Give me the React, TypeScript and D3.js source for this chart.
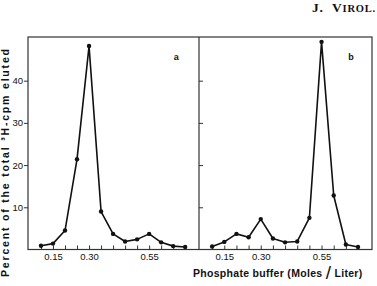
import { useRef, useEffect } from "react";
import * as d3 from "d3";

// fractions 0..12 collected in each run
const fractions = d3.range(13);
// percent of total 3H-cpm eluted
const runA = [0.9, 1.4, 4.5, 21.4, 48.2, 9.0, 3.7, 1.9, 2.4, 3.7, 1.7, 0.8, 0.6];
const runB = [0.7, 1.8, 3.7, 2.9, 7.2, 2.6, 1.7, 1.9, 7.5, 49.2, 12.8, 1.2, 0.6];
// phosphate molarity labels sit under these fractions
const molarityTicks = [1, 4, 9];
const molarityLabels = ["0.15", "0.30", "0.55"];
const yTicks = [10, 20, 30, 40];

const W = 377;
const H = 286;
const SANS = "'Liberation Sans', Arial, sans-serif";

const App: React.FC = () => {
  const svgRef = useRef<SVGSVGElement | null>(null);

  useEffect(() => {
    if (!svgRef.current) return;
    const svg = d3.select(svgRef.current);
    svg.selectAll("*").remove();

    const top = 37;
    const bottom = 249.5;
    const left = 28;
    const mid = 199;
    const right = 372;

    const y = d3.scaleLinear().domain([0, 50.35]).range([bottom, top]);

    const panels = [
      { key: "a", data: runA, x: d3.scaleLinear().domain([-1.08, 13.15]).range([left, mid]) },
      { key: "b", data: runB, x: d3.scaleLinear().domain([-1.08, 13.15]).range([mid, right]) },
    ];

    // frame
    svg
      .append("rect")
      .attr("x", left)
      .attr("y", top)
      .attr("width", right - left)
      .attr("height", bottom - top)
      .attr("fill", "none")
      .attr("stroke", "#333")
      .attr("stroke-width", 1.2);
    svg
      .append("line")
      .attr("x1", mid)
      .attr("x2", mid)
      .attr("y1", top)
      .attr("y2", bottom)
      .attr("stroke", "#333")
      .attr("stroke-width", 1.2);

    // y axis for a (outside), ticks for b on the divider (inside)
    const yAxisA = svg
      .append("g")
      .attr("transform", `translate(${left},0)`)
      .call(d3.axisLeft(y).tickValues(yTicks).tickSize(4).tickPadding(1).tickFormat(d3.format("d")));
    yAxisA.select(".domain").remove();
    yAxisA
      .selectAll("text")
      .attr("font-family", SANS)
      .attr("font-size", 9.5)
      .attr("fill", "#111");
    yAxisA.selectAll("line").attr("stroke", "#333");

    const yAxisB = svg
      .append("g")
      .attr("transform", `translate(${mid},0)`)
      .call(d3.axisRight(y).tickValues(yTicks).tickSize(4).tickFormat(() => ""));
    yAxisB.select(".domain").remove();
    yAxisB.selectAll("line").attr("stroke", "#333");

    panels.forEach((p) => {
      // fraction ticks pointing up
      const xAxis = svg
        .append("g")
        .attr("transform", `translate(0,${bottom})`)
        .call(
          d3
            .axisBottom(p.x)
            .tickValues(fractions)
            .tickSizeInner(-4)
            .tickSizeOuter(0)
            .tickFormat(() => "")
        );
      xAxis.select(".domain").remove();
      xAxis.selectAll("line").attr("stroke", "#333");

      const labels = svg
        .append("g")
        .attr("transform", `translate(0,${bottom})`)
        .call(
          d3
            .axisBottom(p.x)
            .tickValues(molarityTicks)
            .tickSize(0)
            .tickPadding(4)
            .tickFormat((d) => molarityLabels[molarityTicks.indexOf(d as number)])
        );
      labels.select(".domain").remove();
      labels
        .selectAll("text")
        .attr("font-family", SANS)
        .attr("font-size", 9.5)
        .attr("fill", "#111");

      const path = d3
        .line<number>()
        .x((_, i) => p.x(fractions[i]))
        .y((d) => y(d));

      svg
        .append("path")
        .datum(p.data)
        .attr("fill", "none")
        .attr("stroke", "#111")
        .attr("stroke-width", 1.6)
        .attr("stroke-linejoin", "round")
        .attr("d", path);

      svg
        .append("g")
        .selectAll("circle")
        .data(p.data)
        .join("circle")
        .attr("cx", (_, i) => p.x(fractions[i]))
        .attr("cy", (d) => y(d))
        .attr("r", 2.2)
        .attr("fill", "#111");

      svg
        .append("text")
        .attr("x", p.x(12) - 9 + (p.key === "b" ? 2 : 0))
        .attr("y", 60)
        .attr("text-anchor", "middle")
        .attr("font-family", SANS)
        .attr("font-weight", "bold")
        .attr("font-size", 9)
        .attr("fill", "#111")
        .text(p.key);
    });

    // y label
    svg
      .append("text")
      .attr("transform", `translate(9,${163}) rotate(-90)`)
      .attr("text-anchor", "middle")
      .attr("font-family", SANS)
      .attr("font-weight", "bold")
      .attr("font-size", 10.5)
      .attr("fill", "#111")
      .attr("textLength", 228)
      .attr("lengthAdjust", "spacing")
      .text("Percent of the total ³H-cpm eluted");

    // x label
    const xl = svg
      .append("text")
      .attr("x", 193)
      .attr("y", 277)
      .attr("font-family", SANS)
      .attr("font-weight", "bold")
      .attr("font-size", 10.5)
      .attr("letter-spacing", 0.3)
      .attr("fill", "#111");
    xl.append("tspan").text("Phosphate buffer (Moles ");
    xl.append("tspan").attr("font-size", 19).attr("font-weight", "normal").attr("dy", 1.5).text("/");
    xl.append("tspan").attr("dy", -1.5).text(" Liter)");

    // journal header
    const hd = svg
      .append("text")
      .attr("x", 376)
      .attr("y", 12)
      .attr("text-anchor", "end")
      .attr("font-family", "'Liberation Serif', 'DejaVu Serif', serif")
      .attr("font-weight", "bold")
      .attr("font-size", 13.5)
      .attr("letter-spacing", 0.8)
      .attr("fill", "#111");
    hd.append("tspan").text("J.\u00a0\u00a0V");
    hd.append("tspan").attr("font-size", 10.5).text("IROL.");
  }, []);

  return (
    <svg
      ref={svgRef}
      width={W}
      height={H}
      style={{ position: "absolute", left: 0, top: 0, background: "#fff" }}
    />
  );
};

export default App;
